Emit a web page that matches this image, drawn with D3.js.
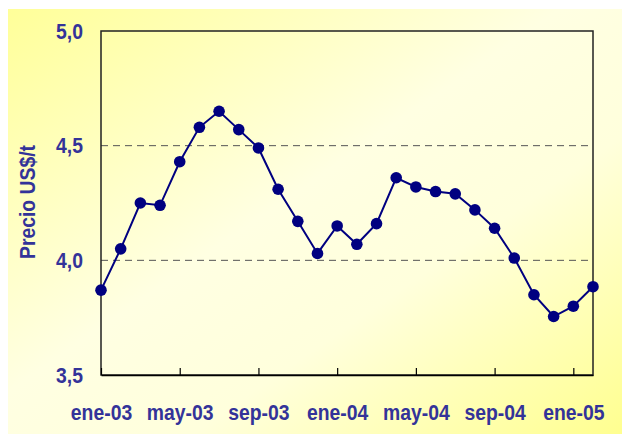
<!DOCTYPE html>
<html lang="es">
<head>
  <meta charset="UTF-8">
  <title>Precio US$/t</title>
  <script src="https://d3js.org/d3.v7.min.js"></script>
  <style>
    body { margin: 0; background: #fff; }
    text { font-family: "Liberation Sans", Arial, sans-serif; font-weight: bold; fill: #333399; }
    .grid line { stroke: #555; stroke-dasharray: 7,5; stroke-width: 1; }
  </style>
</head>
<body>
  <svg width="622" height="434"></svg>
  <script>
    const months = ["ene-03","feb-03","mar-03","abr-03","may-03","jun-03","jul-03","ago-03","sep-03","oct-03","nov-03","dic-03",
                    "ene-04","feb-04","mar-04","abr-04","may-04","jun-04","jul-04","ago-04","sep-04","oct-04","nov-04","dic-04",
                    "ene-05","feb-05"];
    const prices = [3.87, 4.05, 4.25, 4.24, 4.43, 4.58, 4.65, 4.57, 4.49, 4.31, 4.17, 4.03,
                    4.15, 4.07, 4.16, 4.36, 4.32, 4.30, 4.29, 4.22, 4.14, 4.01, 3.85, 3.755,
                    3.80, 3.885];
    const tickLabels = ["ene-03","may-03","sep-03","ene-04","may-04","sep-04","ene-05"];
    const yTicks = [3.5, 4.0, 4.5, 5.0];
    const gridValues = [4.0, 4.5];

    const svg = d3.select("svg");
    const margin = {left: 101, right: 29, top: 31, bottom: 59};
    const width = 622, height = 434;
    const labelFont = "22px";
    const squeeze = "scale(0.88,1)";

    // background gradient
    const grad = svg.append("defs").append("linearGradient")
      .attr("id", "bg").attr("x1", "0%").attr("y1", "0%").attr("x2", "100%").attr("y2", "100%");
    grad.append("stop").attr("offset", "0%").attr("stop-color", "#ffff99");
    grad.append("stop").attr("offset", "45%").attr("stop-color", "#ffffe2");
    grad.append("stop").attr("offset", "65%").attr("stop-color", "#ffffdc");
    grad.append("stop").attr("offset", "100%").attr("stop-color", "#ffff90");

    svg.append("rect").attr("x", 8).attr("y", 9)
      .attr("width", width - 8).attr("height", height - 9)
      .attr("fill", "url(#bg)");

    const x = d3.scaleLinear().domain([0, months.length - 1]).range([margin.left, width - margin.right]);
    const y = d3.scaleLinear().domain([3.5, 5.0]).range([height - margin.bottom, margin.top]);

    // dashed gridlines
    svg.append("g").attr("class", "grid")
      .selectAll("line").data(gridValues).join("line")
      .attr("x1", x.range()[0]).attr("x2", x.range()[1])
      .attr("y1", d => y(d)).attr("y2", d => y(d));

    // frame
    svg.append("rect")
      .attr("x", x.range()[0]).attr("y", y.range()[1])
      .attr("width", x.range()[1] - x.range()[0]).attr("height", y.range()[0] - y.range()[1])
      .attr("fill", "none").attr("stroke", "#222").attr("stroke-width", 1.5);

    // x axis ticks (inside) and labels
    const tickIdx = tickLabels.map(l => months.indexOf(l));
    const xAxis = d3.axisBottom(x).tickValues(tickIdx)
      .tickSizeInner(-7).tickSizeOuter(0)
      .tickFormat(i => months[i]);
    const gx = svg.append("g").attr("transform", `translate(0,${y.range()[0]})`).call(xAxis);
    gx.select(".domain").attr("stroke", "#000").attr("stroke-width", 1.5);
    gx.selectAll(".tick line").attr("stroke", "#000").attr("stroke-width", 1.2);
    gx.selectAll(".tick text")
      .attr("y", 45).attr("dy", null)
      .attr("transform", squeeze)
      .style("font-size", labelFont).style("font-family", "'Liberation Sans', Arial, sans-serif")
      .attr("fill", "#333399");

    // y axis labels
    const yAxis = d3.axisLeft(y).tickValues(yTicks).tickSize(0)
      .tickFormat(d => d3.format(".1f")(d).replace(".", ","));
    const gy = svg.append("g").attr("transform", `translate(${x.range()[0]},0)`).call(yAxis);
    gy.select(".domain").remove();
    gy.selectAll(".tick text")
      .attr("x", -20.5)
      .attr("transform", squeeze)
      .style("font-size", labelFont).style("font-family", "'Liberation Sans', Arial, sans-serif")
      .attr("fill", "#333399");

    // y title
    svg.append("text")
      .attr("transform", `translate(35,202) rotate(-90) ${squeeze}`)
      .attr("text-anchor", "middle")
      .style("font-size", labelFont)
      .text("Precio US$/t");

    // series
    const line = d3.line().x((d, i) => x(i)).y(d => y(d));
    svg.append("path").datum(prices)
      .attr("d", line).attr("fill", "none")
      .attr("stroke", "#000080").attr("stroke-width", 2);

    svg.append("g").selectAll("circle").data(prices).join("circle")
      .attr("cx", (d, i) => x(i)).attr("cy", d => y(d))
      .attr("r", 5.8).attr("fill", "#000080");
  </script>
</body>
</html>
